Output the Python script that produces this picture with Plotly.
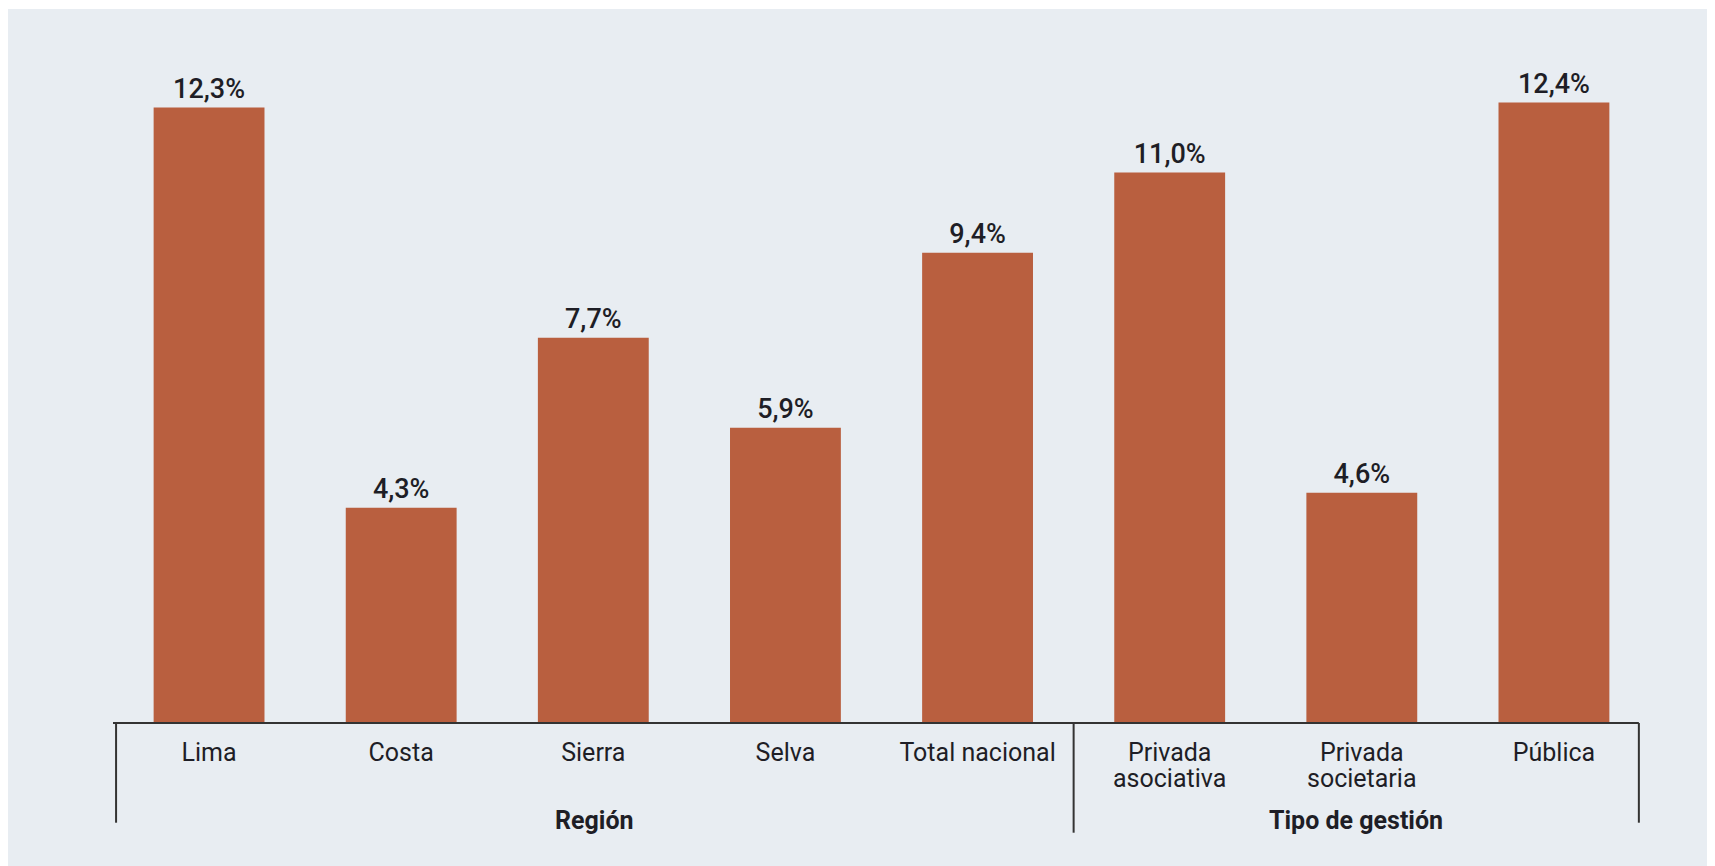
import plotly.graph_objects as go

categories = ["Lima", "Costa", "Sierra", "Selva", "Total nacional",
              "Privada", "Privada", "Pública"]
second_lines = ["", "", "", "", "", "asociativa", "societaria", ""]
values = [12.3, 4.3, 7.7, 5.9, 9.4, 11.0, 4.6, 12.4]
value_labels = ["12,3%", "4,3%", "7,7%", "5,9%", "9,4%", "11,0%", "4,6%", "12,4%"]
group_names = ["Región", "Tipo de gestión"]

BAR = "#B95F3F"
BG = "#E8EDF2"
INK = "#1E1E26"
LINE = "#333333"
FONT = "Roboto"

# the page adds an 8px body margin; work in screen pixels and offset
OFF = 8
SW, SH = 1715, 866
W, H = SW - OFF, SH - OFF
ML, MR, MT, MB = 113 - OFF, 65, 20 - OFF, 143
PH = H - MT - MB
PW = W - ML - MR

def py(screen_y):
    return (H - MB - (screen_y - OFF)) / PH

def px(screen_x):
    return ((screen_x - OFF) - ML) / PW

fig = go.Figure(go.Bar(
    x=list(range(len(categories))),
    y=values,
    width=0.577,
    marker=dict(color=BAR, line=dict(width=0)),
    text=value_labels,
    textposition="outside",
    textfont=dict(family=FONT, size=27, color=INK, weight=500),
    cliponaxis=False,
    hoverinfo="skip",
))

left_x, sep_x, right_x = -0.484, 4.5, 7.442
y_low = py(822.7)
y_sep = py(832.7)

shapes = [
    dict(type="rect", xref="paper", yref="paper",
         x0=px(7), x1=px(SW + 10), y0=py(SH + 10), y1=py(9),
         fillcolor=BG, line=dict(width=0), layer="below"),
    dict(type="line", xref="x", yref="paper", x0=-0.5, x1=right_x, y0=0, y1=0,
         line=dict(color=LINE, width=2)),
    dict(type="line", xref="x", yref="paper", x0=left_x, x1=left_x, y0=0, y1=y_low,
         line=dict(color=LINE, width=2)),
    dict(type="line", xref="x", yref="paper", x0=sep_x, x1=sep_x, y0=0, y1=y_sep,
         line=dict(color=LINE, width=2)),
    dict(type="line", xref="x", yref="paper", x0=right_x, x1=right_x, y0=0, y1=y_low,
         line=dict(color=LINE, width=2)),
]

group_y = py(820)
annotations = [
    dict(x=(left_x + sep_x) / 2, y=group_y, xref="x", yref="paper",
         text="<b>" + group_names[0] + "</b>", showarrow=False,
         xanchor="center", yanchor="middle",
         font=dict(family=FONT, size=25, color=INK)),
    dict(x=(sep_x + right_x) / 2, y=group_y, xref="x", yref="paper",
         text="<b>" + group_names[1] + "</b>", showarrow=False,
         xanchor="center", yanchor="middle",
         font=dict(family=FONT, size=25, color=INK)),
]
for i, t in enumerate(second_lines):
    if t:
        annotations.append(dict(
            x=i, y=py(779), xref="x", yref="paper", text=t, showarrow=False,
            xanchor="center", yanchor="middle",
            font=dict(family=FONT, size=25, color=INK)))

fig.update_layout(
    width=W, height=H,
    margin=dict(l=ML, r=MR, t=MT, b=MB, pad=0),
    paper_bgcolor="white",
    plot_bgcolor="rgba(0,0,0,0)",
    showlegend=False,
    shapes=shapes,
    annotations=annotations,
    xaxis=dict(
        range=[-0.5, 7.5],
        tickmode="array",
        tickvals=list(range(len(categories))),
        ticktext=categories,
        tickfont=dict(family=FONT, size=25, color=INK),
        ticks="",
        ticklabelstandoff=12,
        showline=False, showgrid=False, zeroline=False,
        fixedrange=True,
    ),
    yaxis=dict(range=[0, 14.05], visible=False, fixedrange=True),
)

fig.write_html("out.html", config={"displayModeBar": False})
